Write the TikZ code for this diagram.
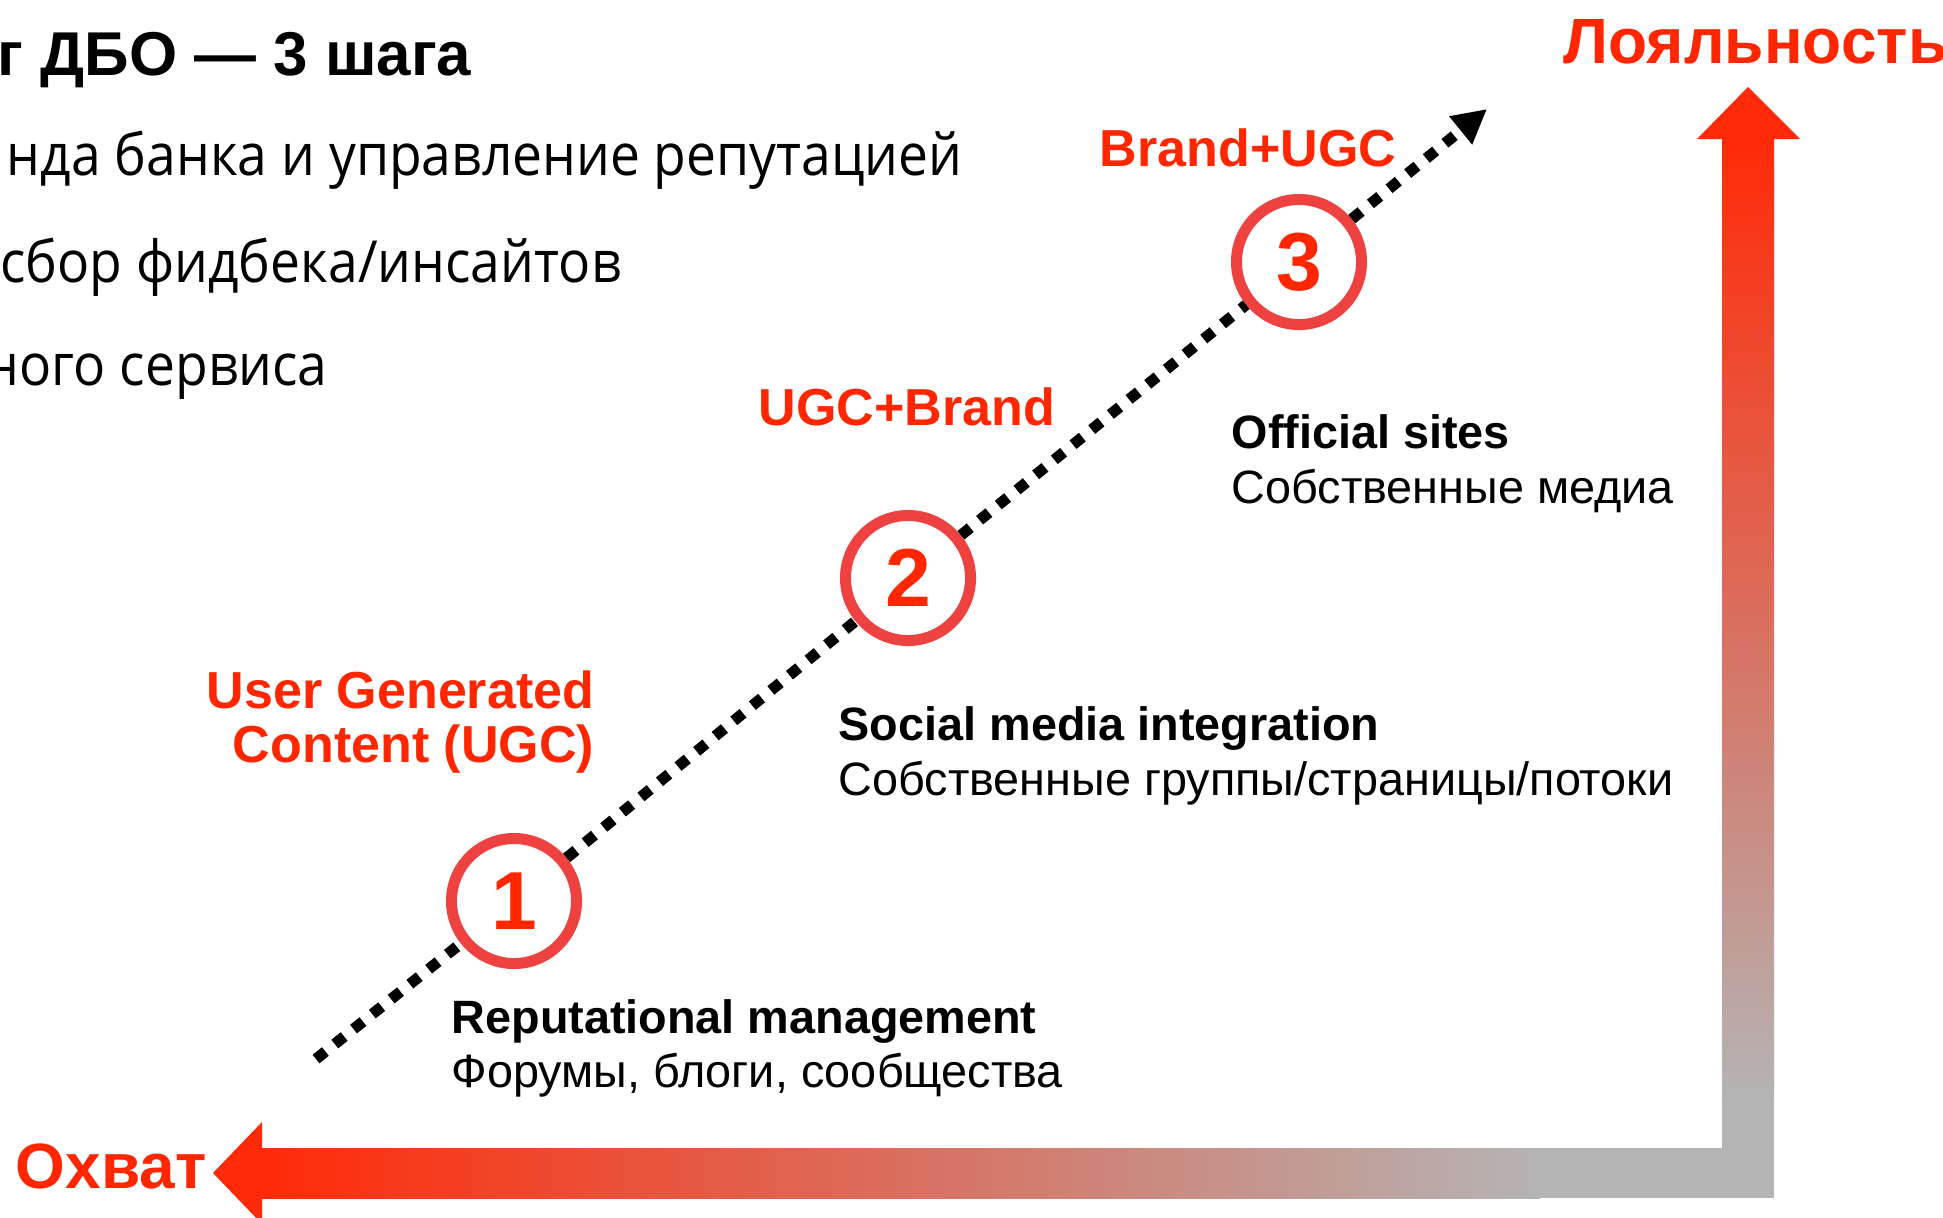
\documentclass[tikz,border=0pt]{standalone}
\usepackage{fontspec}
\setmainfont{Liberation Sans}
\newfontfamily\lightfont{Open Sans}[FakeStretch=0.92]
\usetikzlibrary{arrows.meta}
\definecolor{AxRed}{HTML}{FF2A08}
\definecolor{AxGray}{HTML}{B4B4B4}
\definecolor{TxRed}{HTML}{FF2600}
\definecolor{RingRed}{HTML}{EE4240}

\begin{document}
\begin{tikzpicture}[x=0.01cm,y=-0.01cm,
  axlabel/.style={anchor=base west,inner sep=0,text=TxRed,font=\bfseries\fontsize{18.2}{20}\selectfont},
  tag/.style={inner sep=0,text=TxRed,font=\bfseries\fontsize{14.8}{15.1}\selectfont},
  stepnum/.style={circle,draw=RingRed,line width=0.11cm,fill=white,minimum size=1.25cm,inner sep=0,text=TxRed,font=\bfseries\fontsize{23.4}{24}\selectfont},
  head/.style={anchor=base west,inner sep=0,font=\bfseries\fontsize{13.3}{14}\selectfont},
  sub/.style={anchor=base west,inner sep=0,font=\fontsize{13.3}{14}\selectfont},
  intro/.style={anchor=base east,inner sep=0,font=\lightfont\fontsize{16.5}{18}\selectfont},
  dotline/.style={line width=0.11cm,dash pattern=on 0.12cm off 0.12cm}]
\clip (0,0) rectangle (1943,1217);
\fill[white] (0,0) rectangle (1943,1217);
% slide text, cut at the left edge
\node[anchor=base east,inner sep=0,font=\bfseries\fontsize{17.6}{18}\selectfont] (ttl) at (472,75) {г ДБО — 3 шага};
\node[intro] (i1) at (963,175) {нда банка и управление репутацией};
\node[intro] (i2) at (622,282) {сбор фидбека/инсайтов};
\node[intro] (i3) at (328,385) {ного сервиса};
% axes
\shade[top color=AxRed,bottom color=AxGray] (1722,139) rectangle (1774,1100);
\fill[AxGray] (1722,1099) rectangle (1774,1198);
\fill[AxRed] (1748,87) -- (1697,139) -- (1800,139) -- cycle;
\shade[left color=AxRed,right color=AxGray] (262,1148) rectangle (1540,1198);
\fill[AxGray] (1539,1148) rectangle (1774,1198);
\fill[AxRed] (213,1173) -- (262,1122) -- (262,1224) -- cycle;
\node[axlabel] (loy) at (1563,63) {Лояльность};
\node[axlabel] (cov) at (15,1188) {Охват};
% steps
\coordinate (s) at (316,1059);
\coordinate (e) at (1487,109);
\node[stepnum] (n1) at (514,901) {1};
\node[stepnum] (n2) at (908,578) {2};
\node[stepnum] (n3) at (1299,262) {3};
\draw[dotline] (s) -- (n1);
\draw[dotline] (n1) -- (n2);
\draw[dotline] (n2) -- (n3);
\draw[dotline,-{Triangle[length=0.34cm,width=0.34cm]}] (n3) -- (e);
\node[tag,align=right,anchor=east] (ugc) at (595,722) {User Generated\\Content (UGC)};
\node[tag,anchor=base west] (ub) at (758,425) {UGC+Brand};
\node[tag,anchor=base west] (bu) at (1099,166) {Brand+UGC};
\node[head] (h1) at (451,1033) {Reputational management};
\node[sub] (t1) at (451,1087) {Форумы, блоги, сообщества};
\node[head] (h2) at (838,740) {Social media integration};
\node[sub] (t2) at (838,795) {Собственные группы/страницы/потоки};
\node[head] (h3) at (1231,448) {Official sites};
\node[sub] (t3) at (1231,503) {Собственные медиа};
\end{tikzpicture}
\end{document}
